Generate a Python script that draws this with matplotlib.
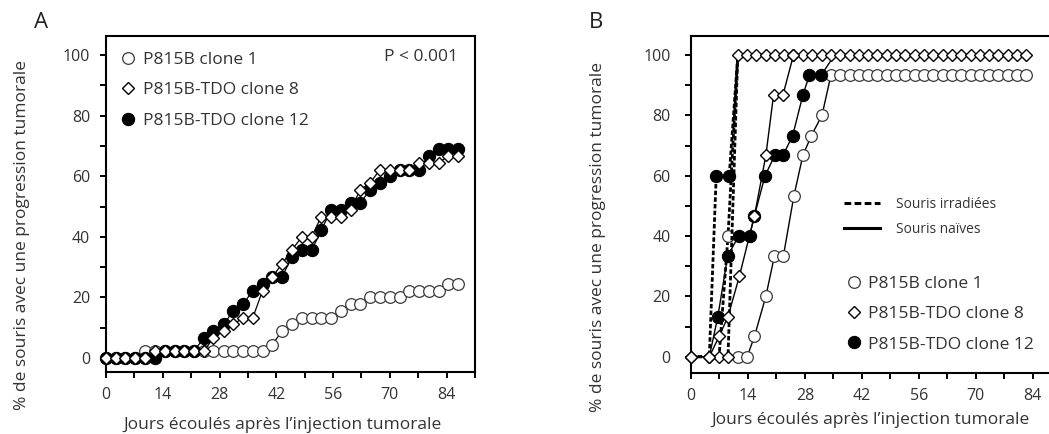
import matplotlib
matplotlib.use("Agg")
import matplotlib.pyplot as plt
from matplotlib.lines import Line2D
from matplotlib.ticker import MultipleLocator

plt.rcParams['font.family'] = ['Open Sans', 'DejaVu Sans']

# ---------------- Panel A : tumour progression, naive mice ----------------
days_a = [0, 2.4, 4.8, 7.2, 9.7, 12.1, 14.5, 16.9, 19.3, 21.7, 24.1, 26.5, 29.0,
          31.4, 33.8, 36.2, 38.6, 41.0, 43.4, 45.8, 48.3, 50.7, 53.1, 55.5, 57.9,
          60.3, 62.7, 65.1, 67.6, 70.0, 72.4, 74.8, 77.2, 79.6, 82.0, 84.4, 86.8]
clone1_a = [0, 0, 0, 0, 2.2, 2.2, 2.2, 2.2, 2.2, 2.2, 2.2, 2.2, 2.2,
            2.2, 2.2, 2.2, 2.2, 4.4, 8.9, 11.1, 13.3, 13.3, 13.3, 13.3, 15.6,
            17.8, 17.8, 20.0, 20.0, 20.0, 20.0, 22.2, 22.2, 22.2, 22.2, 24.4, 24.4]
clone8_a = [0, 0, 0, 0, 0, 2.2, 2.2, 2.2, 2.2, 2.2, 2.2, 6.7, 8.9,
            11.1, 13.3, 13.3, 22.2, 26.7, 31.1, 35.6, 40.0, 40.0, 46.7, 46.7, 46.7,
            48.9, 55.6, 57.8, 62.2, 62.2, 62.2, 62.2, 64.4, 64.4, 64.4, 66.7, 66.7]
clone12_a = [0, 0, 0, 0, 0, 0, 2.2, 2.2, 2.2, 2.2, 6.7, 8.9, 11.1,
             15.6, 17.8, 22.2, 24.4, 26.7, 26.7, 33.3, 35.6, 35.6, 42.2, 48.9, 48.9,
             51.1, 51.1, 55.6, 57.8, 60.0, 62.2, 62.2, 62.2, 66.7, 68.9, 68.9, 68.9]

# ---------------- Panel B : irradiated vs naive mice ----------------
c1_irr_days = [0, 4.5, 6.9, 9.1, 11.5]
c1_irr = [0, 0, 0, 40.0, 100]

c8_irr_days = [0, 4.5, 6.9, 9.1, 11.5, 13.8, 16.1, 18.4, 20.7, 22.9, 25.2, 27.5,
               29.8, 32.1, 34.4, 36.7, 39.0, 41.3, 43.6, 45.8, 48.1, 50.4, 52.7,
               55.0, 57.3, 59.6, 61.9, 64.2, 66.5, 68.8, 71.0, 73.3, 75.6, 77.9,
               80.2, 82.4]
c8_irr = [0, 0, 0, 0, 100, 100, 100, 100, 100, 100, 100, 100,
          100, 100, 100, 100, 100, 100, 100, 100, 100, 100, 100,
          100, 100, 100, 100, 100, 100, 100, 100, 100, 100, 100,
          100, 100]

c12_irr_days = [0, 4.5, 6.2, 9.4, 11.5]
c12_irr = [0, 0, 60.0, 60.0, 100]

c1_naive_days = [0, 4.5, 6.9, 9.1, 11.5, 13.8, 15.6, 18.4, 20.5, 22.7, 25.3, 27.5,
                 29.6, 32.2, 34.4, 36.7, 39.0, 41.3, 43.6, 45.8, 48.1, 50.4, 52.7,
                 55.0, 57.3, 59.6, 61.9, 64.2, 66.5, 68.8, 71.0, 73.3, 75.6, 77.9,
                 80.2, 82.4]
c1_naive = [0, 0, 0, 0, 0, 0, 6.7, 20.0, 33.3, 33.3, 53.3, 66.7,
            73.3, 80.0, 93.3, 93.3, 93.3, 93.3, 93.3, 93.3, 93.3, 93.3, 93.3,
            93.3, 93.3, 93.3, 93.3, 93.3, 93.3, 93.3, 93.3, 93.3, 93.3, 93.3,
            93.3, 93.3]

c8_naive_days = [0, 4.5, 6.9, 9.1, 11.9, 15.6, 18.4, 20.3, 22.6, 25.2]
c8_naive = [0, 0, 6.7, 13.3, 26.7, 46.7, 66.7, 86.7, 86.7, 100]

c12_naive_days = [0, 4.5, 6.6, 9.0, 11.7, 14.4, 15.6, 18.2, 20.6, 22.6, 25.0,
                  27.5, 29.1, 32.0, 35.3]
c12_naive = [0, 0, 13.3, 33.3, 40.0, 40.0, 46.7, 60.0, 66.7, 66.7, 73.3,
             86.7, 93.3, 93.3, 100]

legend_labels = ["P815B clone 1", "P815B-TDO clone 8", "P815B-TDO clone 12"]
x_ticks = [0, 14, 28, 42, 56, 70, 84]
y_ticks = [0, 20, 40, 60, 80, 100]
x_label = "Jours écoulés après l\u2019injection tumorale"
y_label = "% de souris avec une progression tumorale"

W, H = 1049, 434
fig = plt.figure(figsize=(W / 100, H / 100), dpi=100)

TXT = '#333333'
OPEN = dict(marker='o', ms=8.4, mfc='white', mec='#3a3a3a', mew=0.9)
DIAM = dict(marker='D', ms=6.2, mfc='white', mec='black', mew=1.0)
FILL = dict(marker='o', ms=8.8, mfc='black', mec='black', mew=0.8)


def style_axes(ax, xlim, ylim, ypad):
    ax.set_xlim(*xlim)
    ax.set_ylim(*ylim)
    ax.set_xticks(x_ticks)
    ax.set_yticks(y_ticks)
    ax.xaxis.set_minor_locator(MultipleLocator(7))
    ax.yaxis.set_minor_locator(MultipleLocator(10))
    for s in ax.spines.values():
        s.set_linewidth(1.5)
    ax.tick_params(which='both', direction='out', length=4.5, width=1.4,
                   top=False, right=False, labelsize=11.5, colors='black',
                   labelcolor=TXT)
    ax.tick_params(axis='y', pad=ypad)
    ax.tick_params(axis='x', pad=6)


def px_axes(left, top, right, bottom):
    return fig.add_axes([left / W, 1 - bottom / H, (right - left) / W, (bottom - top) / H])


# ---- Panel A ----
axA = px_axes(106, 36, 475, 372)
axA.plot(days_a, clone1_a, color='black', lw=0.9, zorder=3, clip_on=False, **OPEN)
axA.plot(days_a, clone12_a, color='black', lw=0.9, zorder=4, clip_on=False, **FILL)
axA.plot(days_a, clone8_a, color='black', lw=0.9, zorder=5, clip_on=False, **DIAM)
style_axes(axA, (0, 91), (-4.6, 106.3), 7)

handles = [Line2D([], [], ls='none', **OPEN), Line2D([], [], ls='none', **DIAM),
           Line2D([], [], ls='none', **FILL)]
axA.legend(handles, legend_labels, loc='upper left', bbox_to_anchor=(0.041, 0.953),
           frameon=False, fontsize=12.5, handlelength=0.8, handletextpad=0.45,
           labelspacing=0.82, borderpad=0, borderaxespad=0, labelcolor=TXT)
axA.text(0.955, 0.9375, "P < 0.001", transform=axA.transAxes, ha='right', va='center',
         fontsize=12.5, color=TXT)

# ---- Panel B ----
axB = px_axes(691, 36, 1053, 373)
dash = (0, (1.6, 0.8))
axB.plot(c1_naive_days, c1_naive, color='black', lw=1.0, zorder=3, clip_on=False,
         markevery=list(range(4, len(c1_naive_days))), **OPEN)
axB.plot(c1_irr_days, c1_irr, color='black', lw=2.0, ls=dash, zorder=3, clip_on=False,
         markevery=[3], **OPEN)
axB.plot(c12_naive_days, c12_naive, color='black', lw=1.0, zorder=4, clip_on=False,
         markevery=list(range(2, len(c12_naive_days) - 1)), **FILL)
axB.plot(c12_irr_days, c12_irr, color='black', lw=2.0, ls=dash, zorder=4, clip_on=False,
         markevery=[2, 3], **FILL)
axB.plot(c8_irr_days, c8_irr, color='black', lw=2.0, ls=dash, zorder=5, clip_on=False, **DIAM)
axB.plot(c8_naive_days, c8_naive, color='black', lw=1.0, zorder=5, clip_on=False, **DIAM)
style_axes(axB, (0, 89), (-5.4, 106.3), 10)

line_handles = [Line2D([], [], color='black', lw=2.2, ls=(0, (2.2, 1.1))),
                Line2D([], [], color='black', lw=2.2)]
legB1 = axB.legend(line_handles, ["Souris irradiées", "Souris naïves"], loc='upper left',
                   bbox_to_anchor=(0.423, 0.522), frameon=False, fontsize=9.9,
                   handlelength=2.6, handletextpad=1.15, labelspacing=0.72,
                   borderpad=0, borderaxespad=0, labelcolor=TXT)
axB.add_artist(legB1)
axB.legend(handles, legend_labels, loc='upper left', bbox_to_anchor=(0.43, 0.289),
           frameon=False, fontsize=12.5, handlelength=0.8, handletextpad=0.45,
           labelspacing=0.82, borderpad=0, borderaxespad=0, labelcolor=TXT)

# ---- Axis titles and panel letters ----
fig.text(22 / W, 1 - 235 / H, y_label, rotation=90, ha='center', va='center',
         fontsize=12.5, color=TXT)
fig.text(598 / W, 1 - 237 / H, y_label, rotation=90, ha='center', va='center',
         fontsize=12.5, color=TXT)
fig.text(282 / W, 1 - 425 / H, x_label, ha='center', va='center', fontsize=12.5,
         color=TXT)
fig.text(871 / W, 1 - 420 / H, x_label, ha='center', va='center', fontsize=12.5,
         color=TXT)
fig.text(41 / W, 1 - 22 / H, "A", ha='center', va='center', fontsize=16, color='#222222')
fig.text(596 / W, 1 - 23 / H, "B", ha='center', va='center', fontsize=16, color='#222222')

fig.savefig("out.png", dpi=100)
